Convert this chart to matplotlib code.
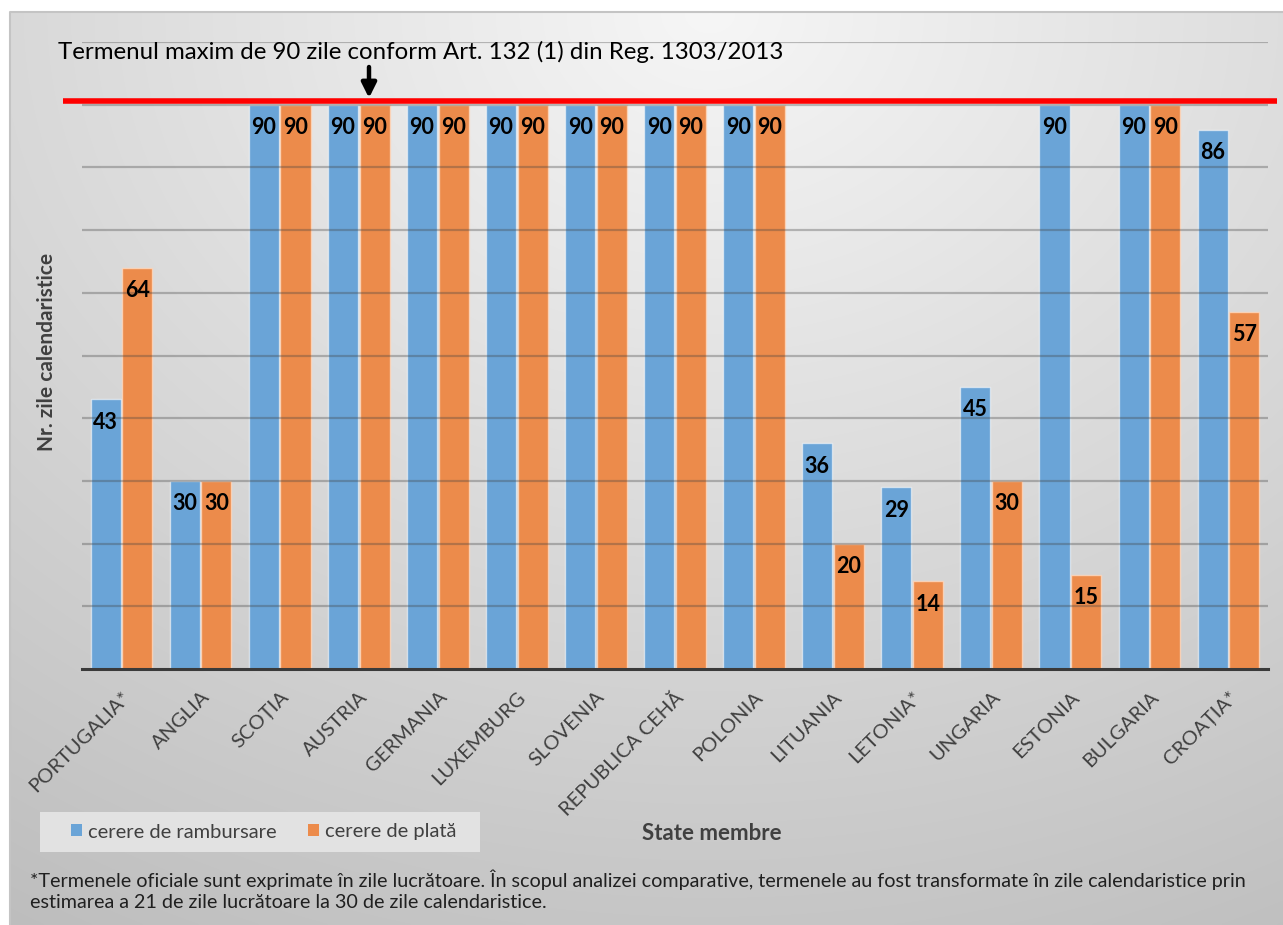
import matplotlib
matplotlib.use("Agg")
import matplotlib.pyplot as plt
import numpy as np
from matplotlib.patches import Patch, Rectangle
from matplotlib.transforms import offset_copy

# ── Data ─────────────────────────────────────────────────────────────────────
states = ["PORTUGALIA*", "ANGLIA", "SCOȚIA", "AUSTRIA", "GERMANIA", "LUXEMBURG",
          "SLOVENIA", "REPUBLICA CEHĂ", "POLONIA", "LITUANIA", "LETONIA*",
          "UNGARIA", "ESTONIA", "BULGARIA", "CROAȚIA*"]
rambursare = [43, 30, 90, 90, 90, 90, 90, 90, 90, 36, 29, 45, 90, 90, 86]
plata      = [64, 30, 90, 90, 90, 90, 90, 90, 90, 20, 14, 30, 15, 90, 57]
limit_days = 90

series_names = ["cerere de rambursare", "cerere de plată"]
title_text = "Termenul maxim de 90 zile conform Art. 132 (1) din Reg. 1303/2013"
footnote = ("*Termenele oficiale sunt exprimate în zile lucrătoare. În scopul analizei "
            "comparative, termenele au fost transformate în zile calendaristice prin\n"
            "estimarea a 21 de zile lucrătoare la 30 de zile calendaristice.")

BLUE = "#6aa4d7"
ORANGE = "#ec8b4b"
DARK = "#404040"
FONT = "Lato"

W, H = 1283, 925
fig = plt.figure(figsize=(W / 100, H / 100), dpi=100, facecolor="white")
plt.rcParams["font.family"] = [FONT, "DejaVu Sans"]

# ── Gradient background panel ───────────────────────────────────────────────
bg_ax = fig.add_axes([10 / W, 0, (W - 10) / W, (H - 12) / H], zorder=-5)
bg_ax.set_axis_off()
v, u = np.mgrid[0:1:400j, 0:1:560j]
d = np.sqrt(((u - 0.55) / 0.9) ** 2 + v ** 2)
g = np.clip(0.965 - 0.19 * d, 0, 1)
bg_ax.imshow(np.stack([g, g, g], axis=-1), extent=[0, 1, 0, 1], aspect="auto",
             origin="upper", interpolation="bilinear")
bg_ax.plot([0, 0, 1], [0, 1, 1], color="#c4c4c4", lw=1.5, transform=bg_ax.transAxes,
           clip_on=False)

# ── Main axes ────────────────────────────────────────────────────────────────
ax = fig.add_axes([82 / W, (H - 669) / H, 1186 / W, 627 / H])
ax.set_facecolor("none")
x = np.arange(len(states))
bw = 0.38
b1 = ax.bar(x - 0.2, rambursare, bw, color=BLUE, edgecolor=(1, 1, 1, 0.55),
            linewidth=1, zorder=2)
b2 = ax.bar(x + 0.2, plata, bw, color=ORANGE, edgecolor=(1, 0.85, 0.75, 0.8),
            linewidth=1, zorder=2)

ax.set_xlim(-0.5, len(states) - 0.5)
ax.set_ylim(0, 100)
ax.set_yticks(np.arange(10, 101, 10))
ax.yaxis.grid(True, color="#404040", alpha=0.33, lw=1.6, zorder=3)
ax.set_axisbelow(False)
ax.tick_params(axis="y", length=0, labelleft=False)
for s in ["top", "right", "left"]:
    ax.spines[s].set_visible(False)
ax.spines["bottom"].set_color("#3a3a3a")
ax.spines["bottom"].set_linewidth(2.2)
ax.spines["bottom"].set_zorder(4)

ax.set_xticks(x)
ax.set_xticklabels(states, rotation=45, ha="right", rotation_mode="anchor",
                   fontsize=14.5, color=DARK)
ax.tick_params(axis="x", length=0, pad=14)

for bars in (b1, b2):
    for rect in bars:
        ax.annotate(f"{rect.get_height():.0f}",
                    (rect.get_x() + rect.get_width() / 2, rect.get_height()),
                    xytext=(0, -16.5), textcoords="offset points",
                    ha="center", va="center", fontsize=15.5, fontweight="bold",
                    color="black", zorder=5)

# red limit line, sitting just on top of the 90-day bars
red_tr = offset_copy(ax.get_yaxis_transform(), fig=fig, y=3.5, units="dots")
ax.plot([-0.016, 1.008], [limit_days, limit_days], color="#ff0000", lw=4,
        transform=red_tr, clip_on=False, zorder=6, solid_capstyle="butt")

ax.set_ylabel("Nr. zile calendaristice", fontsize=15, fontweight="bold",
              color=DARK)
ax.yaxis.set_label_coords(-25 / 1186, (669 - 352) / 627)

# ── Figure-level annotations ────────────────────────────────────────────────
fig.text(58 / W, 1 - 52 / H, title_text, fontsize=17.3, color="black",
         ha="left", va="center")
ax.annotate("", xy=(369, H - 98), xytext=(369, H - 67),
            xycoords="figure pixels", textcoords="figure pixels",
            arrowprops=dict(arrowstyle="-|>", lw=3.2, color="black",
                            mutation_scale=22, shrinkA=0, shrinkB=0))

fig.text(712 / W, 1 - 833 / H, "State membre", fontsize=16, fontweight="bold",
         color=DARK, ha="center", va="center")

fig.patches.append(Rectangle((40 / W, 1 - 852 / H), 440 / W, 40 / H,
                             transform=fig.transFigure, facecolor="#e2e2e2",
                             edgecolor="none", zorder=1))
handles = [Patch(facecolor=BLUE, edgecolor="none"),
           Patch(facecolor=ORANGE, edgecolor="none")]
fig.legend(handles, series_names, loc="center", bbox_to_anchor=(264 / W, 1 - 832 / H),
           ncol=2, frameon=False, fontsize=14.5, handlelength=0.55, handleheight=0.55,
           handletextpad=0.3, columnspacing=1.55, labelcolor=DARK)

fig.text(30 / W, 1 - 890 / H, footnote, fontsize=14.2, color="#202020",
         ha="left", va="center", linespacing=1.3)

fig.savefig("out.png", dpi=100, facecolor="white")
